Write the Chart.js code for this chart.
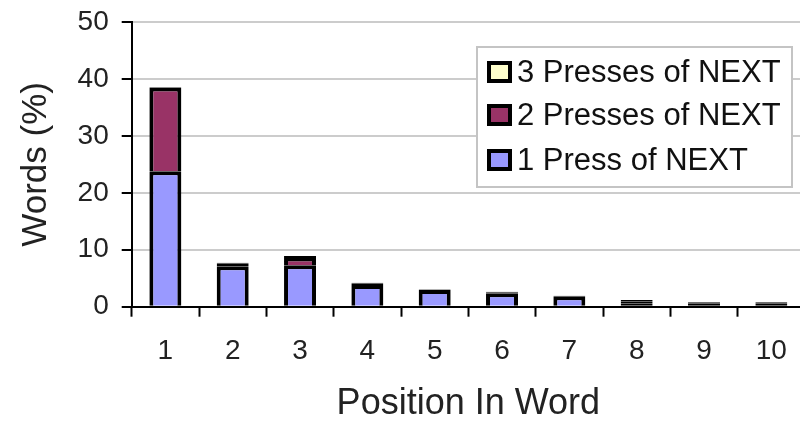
<!DOCTYPE html>
<html>
<head>
<meta charset="utf-8">
<script src="https://cdn.jsdelivr.net/npm/chart.js@4/dist/chart.umd.min.js"></script>
<style>
  html, body { margin: 0; padding: 0; background: #fff; overflow: hidden; }
  #chart { display: block; }
</style>
</head>
<body>
<canvas id="chart" width="810" height="422"></canvas>
<script>
// Position in word vs. percentage of words, split by presses of NEXT

const positions = ['1', '2', '3', '4', '5', '6', '7', '8', '9', '10'];
const onePress = [23.8, 7.1, 7.3, 3.8, 2.95, 2.35, 1.85, 0.5, 0.3, 0.3];
const twoPresses = [14.7, 0.45, 1.24, 0.3, 0.08, 0.2, 0.06, 0.45, 0.3, 0.3];
const threePresses = [0.1, 0.15, 0.36, 0.1, 0.02, 0.08, 0.02, 0.23, 0.2, 0.2];
const yTicks = [0, 10, 20, 30, 40, 50];

const fontFamily = "'Liberation Sans', Arial, sans-serif";

// Legend drawn inside the plot area, in reverse order, like the original
const legendBox = {
    id: 'legendBox',
    afterDraw(chart) {
        const ctx = chart.ctx;
        const x = 477, y = 47, w = 315, h = 140;
        ctx.save();
        ctx.fillStyle = '#fff';
        ctx.fillRect(x, y, w, h);
        ctx.strokeStyle = '#c4c4c4';
        ctx.lineWidth = 2;
        ctx.strokeRect(x, y, w, h);

        const rows = [72, 115, 160];
        const sets = chart.data.datasets.slice().reverse();
        ctx.font = '31px ' + fontFamily;
        ctx.textBaseline = 'middle';
        sets.forEach((ds, i) => {
            const cy = rows[i];
            ctx.fillStyle = '#000';
            ctx.fillRect(487, cy - 11, 25, 22);
            ctx.fillStyle = ds.backgroundColor;
            ctx.fillRect(491, cy - 7, 17, 14);
            ctx.fillStyle = '#111';
            ctx.fillText(ds.label, 517, cy + 1);
        });
        ctx.restore();
    }
};

const ctx = document.getElementById('chart');

new Chart(ctx, {
    type: 'bar',
    data: {
        labels: positions,
        datasets: [
            { label: '1 Press of NEXT', data: onePress, backgroundColor: '#9999ff' },
            { label: '2 Presses of NEXT', data: twoPresses, backgroundColor: '#993366' },
            { label: '3 Presses of NEXT', data: threePresses, backgroundColor: '#ffffcc' }
        ].map(ds => Object.assign(ds, {
            borderColor: '#000',
            borderWidth: 4,
            // thin slivers come out solid black, as in the original
            borderSkipped: c => (c.raw < 1 ? false : 'start'),
            barPercentage: 0.475,
            categoryPercentage: 1
        }))
    },
    options: {
        responsive: false,
        animation: false,
        layout: { padding: { left: 0, right: 5, top: 22, bottom: 0 } },
        plugins: {
            legend: { display: false },
            tooltip: { enabled: false }
        },
        scales: {
            x: {
                stacked: true,
                offset: true,
                grid: {
                    offset: true,
                    drawOnChartArea: false,
                    drawTicks: true,
                    tickLength: 10,
                    tickColor: '#000',
                    tickWidth: 2
                },
                border: { color: '#000', width: 2 },
                ticks: {
                    color: '#222',
                    padding: 18,
                    font: { family: fontFamily, size: 28 }
                },
                title: {
                    display: true,
                    text: 'Position In Word',
                    color: '#222',
                    padding: 0,
                    font: { family: fontFamily, size: 36, lineHeight: 1 }
                },
                afterFit(scale) { scale.height = 115.3; }
            },
            y: {
                stacked: true,
                min: 0,
                max: 50,
                afterBuildTicks(scale) {
                    scale.ticks = yTicks.map(v => ({ value: v }));
                },
                grid: {
                    color: '#cccccc',
                    lineWidth: 2,
                    tickLength: 10,
                    tickColor: '#000',
                    tickWidth: 2
                },
                border: { color: '#000', width: 2 },
                ticks: {
                    color: '#222',
                    padding: 13,
                    font: { family: fontFamily, size: 28, lineHeight: 0.6 }
                },
                title: {
                    display: true,
                    text: 'Words (%)',
                    color: '#222',
                    padding: { top: 19, bottom: 0 },
                    font: { family: fontFamily, size: 35, lineHeight: 1 }
                },
                afterFit(scale) { scale.width = 131.7; }
            }
        }
    },
    plugins: [legendBox]
});
</script>
</body>
</html>
